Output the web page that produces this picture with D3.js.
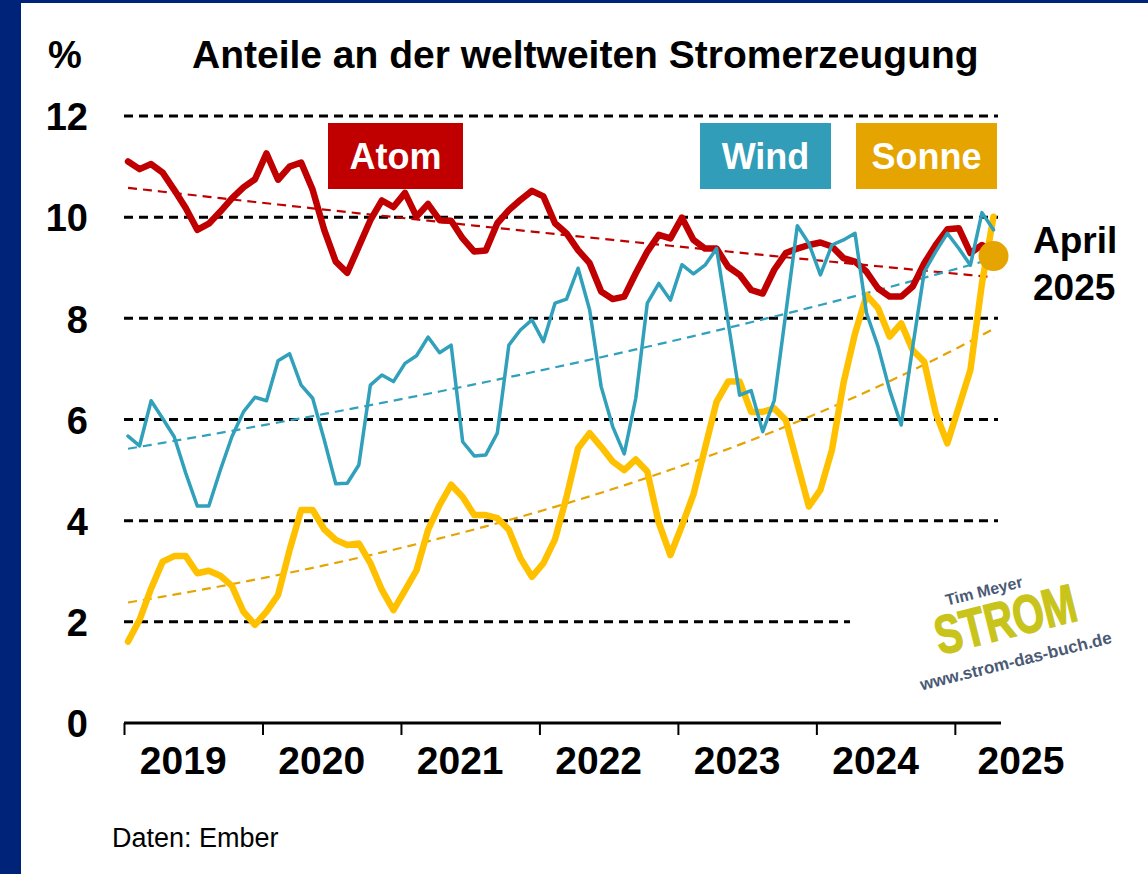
<!DOCTYPE html>
<html>
<head>
<meta charset="utf-8">
<script src="https://cdn.jsdelivr.net/npm/d3@7"></script>
<style>
  html, body { margin: 0; padding: 0; background: #fff; }
  svg { display: block; font-family: "Liberation Sans", Arial, sans-serif; }
</style>
</head>
<body>
<div id="chart"></div>
<script>
// monthly shares of global electricity generation, Jan 2019 .. Apr 2025 (%)
const years = [2019, 2020, 2021, 2022, 2023, 2024, 2025];
const yTicks = [0, 2, 4, 6, 8, 10, 12];

const atom = [
  11.10, 10.95, 11.05, 10.88, 10.54, 10.18, 9.75, 9.87, 10.11, 10.37, 10.59, 10.75,
  11.26, 10.74, 11.00, 11.08, 10.54, 9.75, 9.12, 8.90, 9.42, 9.94, 10.33, 10.20,
  10.48, 10.01, 10.26, 9.94, 9.93, 9.58, 9.32, 9.34, 9.88, 10.14, 10.34, 10.52,
  10.41, 9.88, 9.68, 9.35, 9.09, 8.53, 8.38, 8.43, 8.89, 9.32, 9.65, 9.58,
  9.99, 9.55, 9.38, 9.38, 9.02, 8.86, 8.56, 8.49, 8.96, 9.29, 9.38, 9.45,
  9.50, 9.42, 9.19, 9.12, 8.92, 8.59, 8.43, 8.43, 8.63, 9.09, 9.45, 9.76,
  9.78, 9.29, 9.45, 9.30
];
const wind = [
  5.67, 5.48, 6.37, 6.02, 5.66, 4.94, 4.29, 4.29, 5.00, 5.66, 6.15, 6.44,
  6.37, 7.16, 7.30, 6.68, 6.42, 5.60, 4.73, 4.74, 5.10, 6.68, 6.88, 6.75,
  7.11, 7.26, 7.63, 7.32, 7.47, 5.56, 5.28, 5.30, 5.73, 7.47, 7.77, 7.97,
  7.54, 8.30, 8.38, 8.99, 8.17, 6.65, 5.86, 5.32, 6.42, 8.30, 8.69, 8.36,
  9.06, 8.88, 9.05, 9.38, 7.93, 6.48, 6.57, 5.76, 6.38, 8.10, 9.83, 9.48,
  8.86, 9.45, 9.55, 9.68, 8.10, 7.44, 6.58, 5.89, 7.44, 8.92, 9.32, 9.68,
  9.38, 9.05, 10.09, 9.75
];
const sonne = [
  1.61, 2.04, 2.66, 3.19, 3.30, 3.30, 2.96, 3.01, 2.91, 2.71, 2.20, 1.94,
  2.20, 2.53, 3.42, 4.21, 4.21, 3.83, 3.62, 3.52, 3.55, 3.16, 2.63, 2.23,
  2.62, 3.02, 3.82, 4.31, 4.71, 4.47, 4.11, 4.11, 4.05, 3.82, 3.26, 2.89,
  3.16, 3.63, 4.47, 5.43, 5.73, 5.46, 5.17, 5.00, 5.21, 4.97, 3.95, 3.32,
  3.90, 4.52, 5.43, 6.35, 6.75, 6.75, 6.15, 6.15, 6.22, 5.99, 5.13, 4.28,
  4.61, 5.40, 6.72, 7.70, 8.46, 8.20, 7.64, 7.90, 7.37, 7.14, 6.12, 5.53,
  6.25, 6.98, 8.69, 10.01
];
const markerValue = 9.23;   // April 2025 marker

const W = 1148, H = 874;
const svg = d3.select("#chart").append("svg").attr("width", W).attr("height", H);

// navy frame
svg.append("rect").attr("width", W).attr("height", H).attr("fill", "#00237a");
svg.append("rect").attr("x", 21).attr("y", 3).attr("width", W - 21).attr("height", H - 3).attr("fill", "#fff");

const x = d3.scaleLinear().domain([0, 76]).range([124, 1001]);
const y = d3.scaleLinear().domain([0, 12]).range([723, 116]);
const px = i => x(i + 0.35);

// grid
svg.append("g").selectAll("line")
  .data(yTicks.filter(d => d > 0))
  .join("line")
  .attr("x1", x(0))
  .attr("x2", d => d === 2 ? 850 : 998)
  .attr("y1", d => y(d)).attr("y2", d => y(d))
  .attr("stroke", "#000").attr("stroke-width", 3)
  .attr("stroke-dasharray", "9,6");

// y labels
svg.append("g")
  .attr("transform", `translate(88,0)`)
  .call(d3.axisLeft(y).tickValues(yTicks).tickSize(0).tickPadding(0))
  .call(g => g.select(".domain").remove())
  .selectAll("text")
  .attr("font-family", "Liberation Sans, Arial, sans-serif")
  .attr("font-size", 38).attr("font-weight", "bold").attr("fill", "#000")
  .attr("dy", "0.36em");

// x axis
svg.append("g")
  .attr("transform", `translate(0,${y(0)})`)
  .call(d3.axisBottom(x).tickValues(d3.range(0, 76, 12)).tickSize(12).tickFormat(""))
  .call(g => g.select(".domain").attr("stroke-width", 3).attr("d", `M${x(0)},0H${x(76)}`))
  .call(g => g.selectAll(".tick line").attr("stroke-width", 2));

svg.append("g").selectAll("text")
  .data(years)
  .join("text")
  .attr("x", (d, i) => i === 6 ? 1021 : x(i * 12 + 6) - 10)
  .attr("y", 774)
  .attr("text-anchor", "middle")
  .attr("font-size", 39).attr("font-weight", "bold")
  .text(d => d);

// exponential trend fit (least squares on ln values)
function expTrend(values) {
  const xs = values.map((v, i) => i), ls = values.map(v => Math.log(v));
  const mx = d3.mean(xs), ml = d3.mean(ls);
  const b = d3.sum(xs, (xv, i) => (xv - mx) * (ls[i] - ml)) / d3.sum(xs, xv => (xv - mx) ** 2);
  const a = ml - b * mx;
  return xs.map(xv => Math.exp(a + b * xv));
}

const line = d3.line().x((d, i) => px(i)).y(d => y(d));

const series = [
  { values: atom, color: "#c00000", trend: "#c00000", width: 6.5 },
  { values: sonne, color: "#ffc000", trend: "#e5a400", width: 6.5 },
  { values: wind, color: "#31a0ba", trend: "#31a0ba", width: 3.5 }
];

svg.append("g").selectAll("path")
  .data(series)
  .join("path")
  .attr("d", d => line(expTrend(d.values)))
  .attr("fill", "none")
  .attr("stroke", d => d.trend).attr("stroke-width", 2.2)
  .attr("stroke-dasharray", "9,6");

svg.append("g").selectAll("path")
  .data(series)
  .join("path")
  .attr("d", d => line(d.values))
  .attr("fill", "none")
  .attr("stroke", d => d.color).attr("stroke-width", d => d.width)
  .attr("stroke-linejoin", "round").attr("stroke-linecap", "round");

// April 2025 marker
svg.append("circle")
  .attr("cx", px(75)).attr("cy", y(markerValue)).attr("r", 15)
  .attr("fill", "#e5a400");
svg.append("text").attr("x", 1033).attr("y", 253)
  .attr("font-size", 37).attr("font-weight", "bold").text("April");
svg.append("text").attr("x", 1033).attr("y", 300)
  .attr("font-size", 37).attr("font-weight", "bold").text("2025");

// legend boxes
const legend = [
  { label: "Atom", color: "#c00000", x0: 328, x1: 463 },
  { label: "Wind", color: "#319db8", x0: 700, x1: 831 },
  { label: "Sonne", color: "#e5a400", x0: 856, x1: 997 }
];
const lg = svg.append("g").selectAll("g").data(legend).join("g");
lg.append("rect")
  .attr("x", d => d.x0).attr("y", 123)
  .attr("width", d => d.x1 - d.x0).attr("height", 66)
  .attr("fill", d => d.color);
lg.append("text")
  .attr("x", d => (d.x0 + d.x1) / 2).attr("y", 169)
  .attr("text-anchor", "middle")
  .attr("font-size", 36).attr("font-weight", "bold").attr("fill", "#fff")
  .text(d => d.label);

// title
svg.append("text").attr("x", 48).attr("y", 68)
  .attr("font-size", 38).attr("font-weight", "bold").text("%");
svg.append("text").attr("x", 192).attr("y", 68)
  .attr("font-size", 39).attr("font-weight", "bold")
  .text("Anteile an der weltweiten Stromerzeugung");

// source
svg.append("text").attr("x", 112).attr("y", 847)
  .attr("font-size", 27).text("Daten: Ember");

// watermark
const wm = svg.append("g").attr("transform", "translate(1006,622) rotate(-14)");
wm.append("text").attr("x", -14).attr("y", -30)
  .attr("text-anchor", "middle").attr("font-size", 16).attr("font-weight", "bold")
  .attr("fill", "#4a5a75").text("Tim Meyer");
wm.append("text").attr("transform", "translate(0,16) scale(0.74,1)")
  .attr("text-anchor", "middle").attr("font-size", 54).attr("font-weight", "bold")
  .attr("stroke", "#c8c41c").attr("stroke-width", 1.5)
  .attr("fill", "#c8c41c").text("STROM");
wm.append("text").attr("x", 0).attr("y", 46)
  .attr("text-anchor", "middle").attr("font-size", 17).attr("font-weight", "bold")
  .attr("fill", "#4a5a75").text("www.strom-das-buch.de");
</script>
</body>
</html>
